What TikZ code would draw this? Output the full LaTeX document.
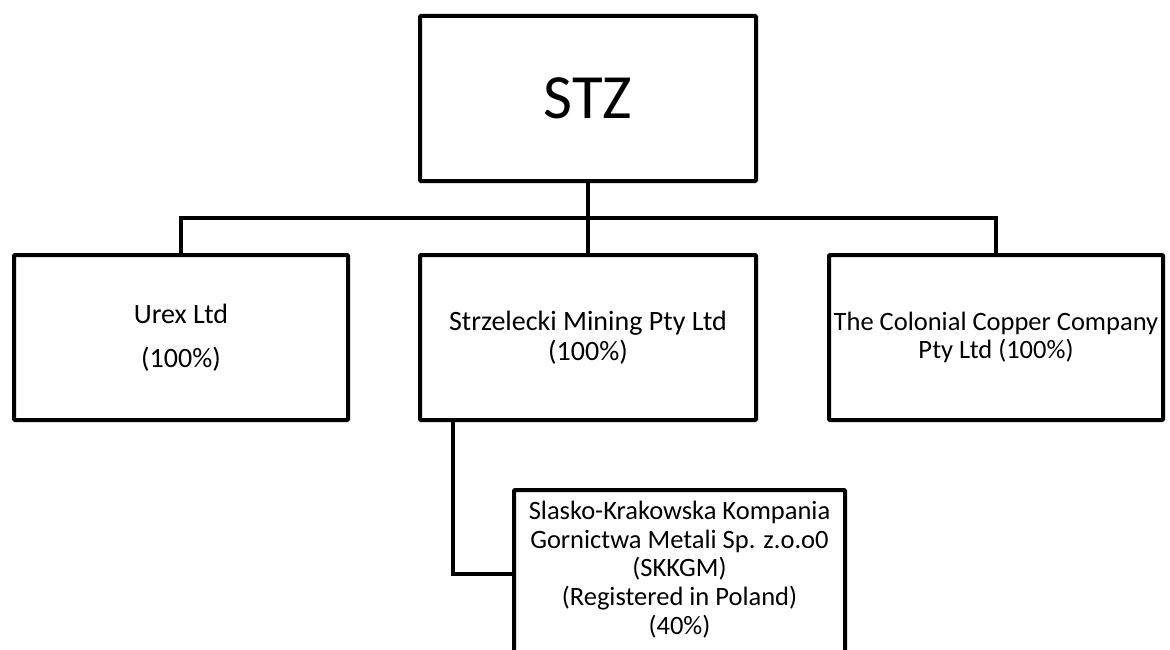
\documentclass[tikz,border=0pt]{standalone}
\usepackage{fontspec}
\setmainfont{Carlito}
\usetikzlibrary{positioning}

\begin{document}
\begin{tikzpicture}[x=1pt,y=-1pt,
  box/.style={draw,line width=4pt,rounded corners=1pt,minimum width=336pt,minimum height=165pt,
    align=center,inner sep=0pt,font=\fontsize{28}{29.5}\selectfont},
  small/.style={font=\fontsize{26.5}{28.8}\selectfont},
  conn/.style={line width=4pt,line cap=rect}]
  \useasboundingbox (0,0) rectangle (1170,650);
  % top company
  \node[box,font=\fontsize{63}{66}\selectfont] (stz) at (588,98.5) {STZ};
  % subsidiaries
  \node[box,minimum width=334pt] (urex) at (181,337.5) {Urex Ltd\\[15pt](100\%)};
  \node[box] (strz) at (588,337.5) {Strzelecki Mining Pty Ltd\\(100\%)};
  \node[box,small,minimum width=334pt] (colonial) at (996,337.5) {The Colonial Copper Company\\Pty Ltd (100\%)};
  \node[box,small,minimum width=331pt,minimum height=184pt,anchor=north] (skkgm) at (679.5,488)
    {Slasko-Krakowska Kompania\\Gornictwa Metali Sp. z.o.o0\\(SKKGM)\\(Registered in Poland)\\(40\%)\\\mbox{}};
  % connectors
  \draw[conn] (urex.north) -- ++(0,-35) -| (colonial.north);
  \draw[conn] (stz.south) -- (strz.north);
  \draw[conn] ([xshift=-135pt]strz.south) |- ([yshift=8pt]skkgm.west);
\end{tikzpicture}
\end{document}
